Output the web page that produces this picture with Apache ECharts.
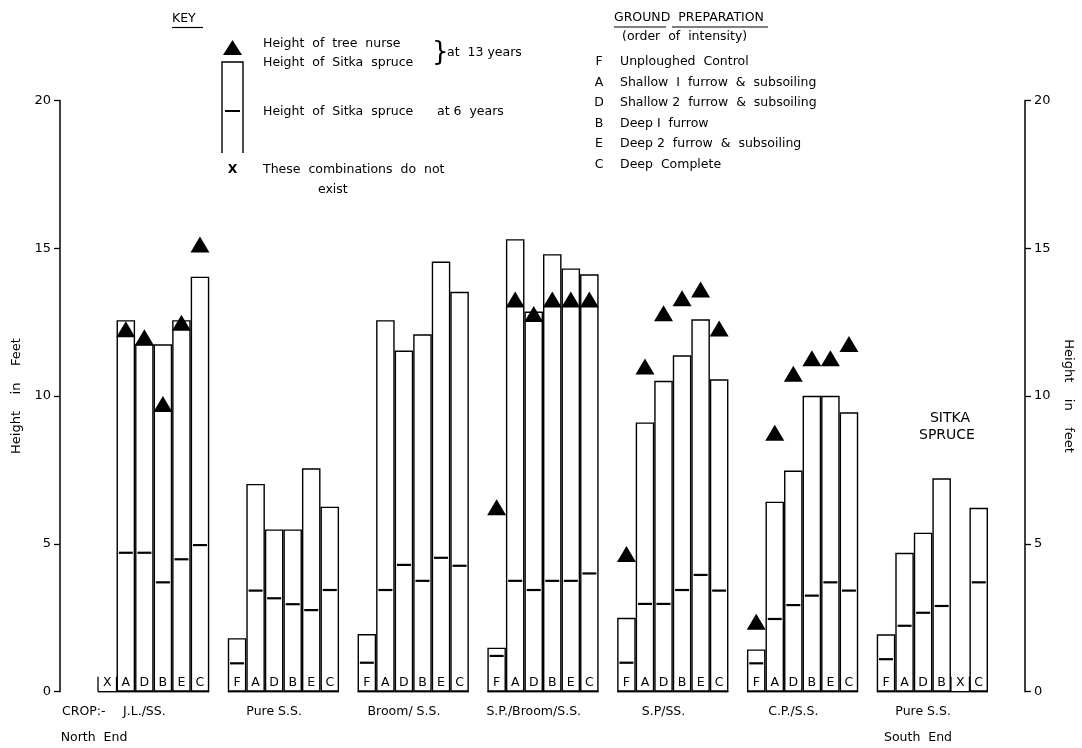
<!DOCTYPE html>
<html>
<head>
<meta charset="utf-8">
<script src="https://cdn.jsdelivr.net/npm/echarts@6/dist/echarts.min.js"></script>
<style>
  html, body { margin: 0; padding: 0; background: #fff; }
  #chart { width: 1082px; height: 748px; }
</style>
</head>
<body>
<div id="chart"></div>
<script>
// Crop mixtures (left to right, north end to south end)
const cropGroups = ['J.L./SS.', 'Pure S.S.', 'Broom/ S.S.', 'S.P./Broom/S.S.', 'S.P/SS.', 'C.P./S.S.', 'Pure S.S.'];

// Ground preparation treatment in each column ("X" = combination does not exist)
const treatments = [
  ['X', 'A', 'D', 'B', 'E', 'C'],
  ['F', 'A', 'D', 'B', 'E', 'C'],
  ['F', 'A', 'D', 'B', 'E', 'C'],
  ['F', 'A', 'D', 'B', 'E', 'C'],
  ['F', 'A', 'D', 'B', 'E', 'C'],
  ['F', 'A', 'D', 'B', 'E', 'C'],
  ['F', 'A', 'D', 'B', 'X', 'C']
];

// Height of Sitka spruce at 13 years (feet)
const sitka13 = [
  [null, 12.57, 11.75, 11.75, 12.57, 14.04],
  [1.81, 7.03, 5.49, 5.49, 7.56, 6.26],
  [1.95, 12.57, 11.54, 12.09, 14.55, 13.53],
  [1.49, 15.31, 12.86, 14.80, 14.32, 14.12],
  [2.50, 9.11, 10.52, 11.38, 12.60, 10.57],
  [1.43, 6.43, 7.48, 10.01, 10.01, 9.45],
  [1.94, 4.70, 5.38, 7.22, null, 6.22]
];

// Height of Sitka spruce at 6 years (feet)
const sitka6 = [
  [null, 4.70, 4.70, 3.70, 4.48, 4.96],
  [0.96, 3.42, 3.16, 2.96, 2.76, 3.44],
  [0.98, 3.44, 4.29, 3.75, 4.53, 4.26],
  [1.21, 3.75, 3.44, 3.75, 3.75, 4.00],
  [0.98, 2.97, 2.97, 3.44, 3.95, 3.42],
  [0.96, 2.46, 2.93, 3.25, 3.70, 3.42],
  [1.10, 2.23, 2.67, 2.90, null, 3.70]
];

// Height of tree nurse at 13 years (feet)
const nurse13 = [
  [null, 12.26, 11.99, 9.73, 12.48, 15.13],
  [null, null, null, null, null, null],
  [null, null, null, null, null, null],
  [6.24, 13.27, 12.78, 13.27, 13.27, 13.27],
  [4.66, 11.00, 12.80, 13.31, 13.61, 12.29],
  [2.37, 8.76, 10.76, 11.28, 11.28, 11.76],
  [null, null, null, null, null, null]
];

// Height axis
const yMin = 0, yMax = 20, yStep = 5;

// Ground preparation key
const prepCodes = ['F', 'A', 'D', 'B', 'E', 'C'];
const prepNames = [
  'Unploughed  Control',
  'Shallow  I  furrow  &  subsoiling',
  'Shallow 2  furrow  &  subsoiling',
  'Deep I  furrow',
  'Deep 2  furrow  &  subsoiling',
  'Deep  Complete'
];

const FONT = 'DejaVu Sans';
const INK = '#000';
const F12 = '12.5px "' + FONT + '"';

// Lay the columns out on one category axis, one empty slot between crops
const slots = [];
cropGroups.forEach((name, g) => {
  treatments[g].forEach((letter, i) => slots.push({ g, i, letter }));
  if (g < cropGroups.length - 1) slots.push(null);
});

const barData = [], sixData = [], nurseData = [], cellData = [];
slots.forEach((s, k) => {
  if (!s) return;
  const h13 = sitka13[s.g][s.i];
  const h6 = sitka6[s.g][s.i];
  const n13 = nurse13[s.g][s.i];
  if (h13 != null) barData.push([k, h13]);
  if (h6 != null) sixData.push([k, h6]);
  if (n13 != null) nurseData.push([k, n13]);
  cellData.push([k, 0, s.letter === 'X' ? 1 : 0]);
});

const categories = slots.map((s, k) => String(k));
const groupLabelAt = {};
slots.forEach((s, k) => { if (s && s.i === 2) groupLabelAt[k] = cropGroups[s.g]; });

function label(text, x, y, extra) {
  return { type: 'text', x, y, z: 100, style: Object.assign({ text, fill: INK, font: F12, verticalAlign: 'middle' }, extra || {}) };
}
function seg(x1, y1, x2, y2, w) {
  return { type: 'line', z: 100, shape: { x1, y1, x2, y2 }, style: { stroke: INK, lineWidth: w || 1.3 } };
}

const graphics = [];
// Key
graphics.push(label('KEY', 172, 19));
graphics.push(seg(172, 27.5, 203, 27.5, 1.2));
graphics.push({ type: 'polygon', shape: { points: [[223, 55], [242, 55], [232.5, 40]] }, style: { fill: INK } });
graphics.push({ type: 'polyline', shape: { points: [[222, 153], [222, 62], [243, 62], [243, 153]] }, style: { stroke: INK, lineWidth: 1.4, fill: null } });
graphics.push(seg(225, 111, 240, 111, 2));
[
  ['Height  of  tree  nurse', 263, 44],
  ['Height  of  Sitka  spruce', 263, 63],
  ['at  13 years', 447, 53],
  ['Height  of  Sitka  spruce', 263, 112],
  ['at 6  years', 437, 112],
  ['These  combinations  do  not', 263, 170],
  ['exist', 318, 190]
].forEach(t => graphics.push(label(t[0], t[1], t[2])));
graphics.push(label('}', 432, 53, { font: '26px "' + FONT + '"' }));
graphics.push(label('X', 232.5, 170, { font: 'bold ' + F12, align: 'center' }));

// Ground preparation key
graphics.push(label('GROUND  PREPARATION', 614, 18));
graphics.push(seg(614, 27, 666, 27, 1.2));
graphics.push(seg(672, 27, 768, 27, 1.2));
graphics.push(label('(order  of  intensity)', 622, 37));
prepCodes.forEach((c, i) => {
  const y = 62 + i * 20.5;
  graphics.push(label(c, 599, y, { align: 'center' }));
  graphics.push(label(prepNames[i], 620, y));
});

// Captions along the bottom and over the last crop
graphics.push(label('CROP:-', 62, 712));
graphics.push(label('North  End', 94, 738, { align: 'center' }));
graphics.push(label('South  End', 918, 738, { align: 'center' }));
graphics.push(label('SITKA', 950, 418, { align: 'center', font: '14px "' + FONT + '"' }));
graphics.push(label('SPRUCE', 947, 435, { align: 'center', font: '14px "' + FONT + '"' }));

const axisCommon = {
  type: 'value', min: yMin, max: yMax, interval: yStep,
  axisLine: { show: true, lineStyle: { color: INK, width: 1.5 } },
  axisTick: { show: true, length: 6, lineStyle: { color: INK, width: 1.3 } },
  splitLine: { show: false },
  axisLabel: { color: INK, fontSize: 13, fontFamily: FONT, margin: 9 },
  nameLocation: 'middle',
  nameTextStyle: { color: INK, fontSize: 13, fontFamily: FONT }
};

const chart = echarts.init(document.getElementById('chart'), null, { renderer: 'canvas' });
chart.setOption({
  backgroundColor: '#fff',
  animation: false,
  grid: { left: 98, right: 94, top: 100.5, bottom: 56.3, containLabel: false, outerBoundsMode: 'none' },
  xAxis: {
    type: 'category',
    data: categories,
    axisLine: { show: false },
    axisTick: { show: false },
    splitLine: { show: false },
    axisLabel: {
      interval: 0, margin: 14, color: INK, fontSize: 12.5, fontFamily: FONT,
      formatter: (v, idx) => groupLabelAt[idx] || ''
    }
  },
  yAxis: [
    Object.assign({}, axisCommon, { position: 'left', offset: 38, name: 'Height    in    Feet', nameRotate: 90, nameGap: 34 }),
    Object.assign({}, axisCommon, { position: 'right', offset: 37, name: 'Height    in    feet', nameRotate: -90, nameGap: 34 })
  ],
  series: [
    {
      name: 'Height of Sitka spruce at 13 years',
      type: 'bar',
      data: barData,
      barCategoryGap: '0%',
      itemStyle: { color: '#fff', borderColor: INK, borderWidth: 1.4 },
      z: 2
    },
    {
      name: 'Treatment',
      type: 'custom',
      data: cellData,
      encode: { x: 0, y: 1 },
      z: 3,
      renderItem: (params, api) => {
        const k = api.value(0);
        const p = api.coord([k, 0]);
        const w = api.size([1, 0])[0];
        const x0 = p[0] - w / 2, x1 = p[0] + w / 2, y = p[1];
        const letter = slots[k].letter;
        const children = [
          { type: 'line', shape: { x1: x0, y1: y, x2: x1, y2: y }, style: { stroke: INK, lineWidth: 1.4 } },
          { type: 'text', style: { text: letter, x: p[0], y: y - 8.5, align: 'center', verticalAlign: 'middle', font: F12, fill: INK } }
        ];
        if (api.value(2) === 1) {
          children.push({ type: 'line', shape: { x1: x0, y1: y, x2: x0, y2: y - 15 }, style: { stroke: INK, lineWidth: 1.3 } });
          children.push({ type: 'line', shape: { x1: x1, y1: y, x2: x1, y2: y - 15 }, style: { stroke: INK, lineWidth: 1.3 } });
        }
        return { type: 'group', children };
      }
    },
    {
      name: 'Height of Sitka spruce at 6 years',
      type: 'scatter',
      data: sixData,
      symbol: 'rect',
      symbolSize: [14, 2.2],
      itemStyle: { color: INK, opacity: 1 },
      z: 4
    },
    {
      name: 'Height of tree nurse at 13 years',
      type: 'scatter',
      data: nurseData,
      symbol: 'triangle',
      symbolSize: [19, 16],
      itemStyle: { color: INK, opacity: 1 },
      z: 5
    }
  ],
  graphic: graphics
});
</script>
</body>
</html>
